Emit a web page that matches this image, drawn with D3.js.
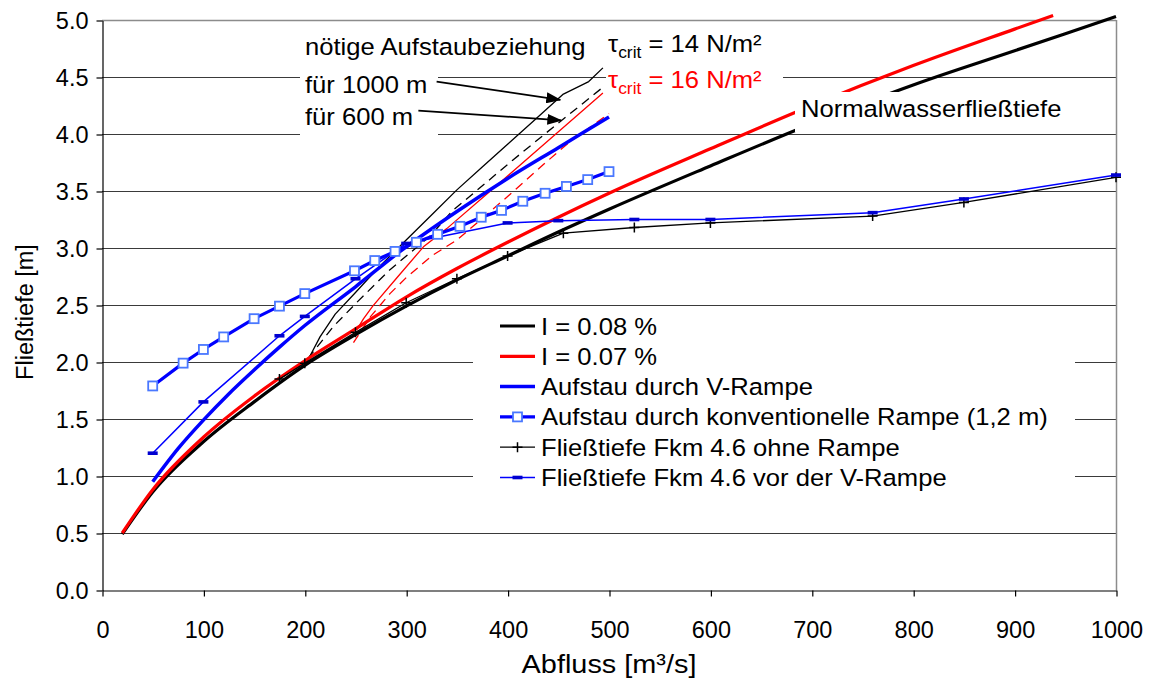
<!DOCTYPE html>
<html><head><meta charset="utf-8">
<script src="https://cdn.jsdelivr.net/npm/d3@7"></script>
<style>body{margin:0;background:#fff}svg{display:block}text{font-family:"Liberation Sans",Arial,sans-serif}</style>
</head><body><svg id="c" width="1150" height="684"></svg>
<script>
// ---------- DATA ----------
const xTicks=[0,100,200,300,400,500,600,700,800,900,1000];
const yTicks=[0,0.5,1,1.5,2,2.5,3,3.5,4,4.5,5];
// I = 0.08 % (Normalwasserfließtiefe)
const q08=[20,50,100,150,200,250,300,350,400,450,500,600,700,800,900,1000];
const h08=[0.49,0.86,1.30,1.65,1.97,2.24,2.49,2.72,2.93,3.14,3.34,3.72,4.09,4.43,4.73,5.03];
// I = 0.07 %
const q07=[20,50,100,150,200,250,300,350,400,450,500,600,700,800,900,938];
const h07=[0.50,0.88,1.34,1.70,2.01,2.29,2.57,2.82,3.05,3.27,3.48,3.87,4.25,4.60,4.92,5.04];
// Aufstau durch V-Rampe
const qV=[50,75,100,125,150,175,200,250,294,350,400,450,500];
const hV=[0.95,1.24,1.49,1.72,1.93,2.13,2.32,2.66,2.97,3.32,3.61,3.88,4.15];
// Aufstau durch konventionelle Rampe (1,2 m)
const qK=[50,80,100,120,150,175,200,249,269,289,310,331,353,374,394,415,437,458,479,500];
const hK=[1.79,1.99,2.11,2.22,2.38,2.49,2.60,2.80,2.89,2.97,3.05,3.12,3.19,3.27,3.33,3.41,3.48,3.54,3.60,3.67];
// Fließtiefe Fkm 4.6 ohne Rampe
const qO=[175,200,250,300,350,400,455,525,600,760,850,1000];
const hO=[1.85,1.99,2.26,2.52,2.73,2.93,3.13,3.18,3.22,3.28,3.40,3.62];
// Fließtiefe Fkm 4.6 vor der V-Rampe
const qB=[50,100,175,200,250,300,400,450,525,600,760,850,1000];
const hB=[1.20,1.65,2.23,2.40,2.73,3.04,3.22,3.24,3.25,3.25,3.31,3.43,3.64];
// nötige Aufstaubeziehung, tau_crit = 14 N/m², 1000 m (solid) and 600 m (dashed)
const qT14a=[200,205,215,230,250,275,300,325,350,375,400,425,455,480,494];
const hT14a=[1.97,2.05,2.22,2.42,2.61,2.85,3.07,3.29,3.51,3.71,3.91,4.11,4.35,4.46,4.58];
const qT14b=[203,228,251,284,323,346,373,405,445,494];
const hT14b=[2.03,2.31,2.52,2.81,3.10,3.33,3.53,3.77,4.06,4.41];
// tau_crit = 16 N/m², 1000 m (solid) and 600 m (dashed)
const qT16a=[251,258,267,290,317,340,383,445,494];
const hT16a=[2.28,2.38,2.49,2.73,3.01,3.17,3.50,3.98,4.36];
const qT16b=[248,265,284,300,325,350,375,405,435,452,464,500];
const hT16b=[2.17,2.40,2.60,2.74,2.93,3.07,3.26,3.49,3.73,3.86,3.95,4.18];
const legendLabels=["I = 0.08 %","I = 0.07 %","Aufstau durch V-Rampe","Aufstau durch konventionelle Rampe (1,2 m)","Fließtiefe Fkm 4.6 ohne Rampe","Fließtiefe Fkm 4.6 vor der V-Rampe"];

// ---------- CHART ----------
const zip=(a,b)=>a.map((v,i)=>[v,b[i]]);
const svg=d3.select("#c");
const L=102,R=1116,T=20,B=590;
const x=d3.scaleLinear().domain([0,1000]).range([L,R]);
const y=d3.scaleLinear().domain([0,5]).range([B,T]);
const SX=1.09;
const BLUE="#0000ff", RED="#ff0000", SQ="#4a78ff";

// grid
svg.append("g").selectAll("line").data(yTicks.filter(v=>v>0&&v<5)).join("line")
  .attr("x1",L).attr("x2",R).attr("y1",d=>y(d)+0.5).attr("y2",d=>y(d)+0.5)
  .attr("stroke","#3a3a3a").attr("stroke-width",1);
svg.append("line").attr("x1",L).attr("x2",R).attr("y1",y(5)+0.5).attr("y2",y(5)+0.5).attr("stroke","#8c8c8c").attr("stroke-width",1.5);
svg.append("line").attr("x1",R+0.5).attr("x2",R+0.5).attr("y1",T).attr("y2",B).attr("stroke","#8c8c8c").attr("stroke-width",1.5);

// axes
const ya=svg.append("g").attr("transform",`translate(${L+0.5},0.5)`)
  .call(d3.axisLeft(y).tickValues(yTicks).tickFormat(d3.format(".1f")).tickSize(6).tickSizeOuter(0).tickPadding(8));
const xa=svg.append("g").attr("transform",`translate(0.5,${B+0.5})`)
  .call(d3.axisBottom(x).tickValues(xTicks).tickFormat(d3.format("d")).tickSize(6).tickSizeOuter(0).tickPadding(25));
[ya,xa].forEach(a=>{a.selectAll("text").style("font-size","23.5px").style("font-family",'"Liberation Sans",Arial,sans-serif').style("fill","#000");
  a.selectAll("line,path").attr("stroke","#000").attr("stroke-width",1.2);});

// axis titles
svg.append("text").attr("transform",`translate(609,673) scale(${SX},1)`).attr("text-anchor","middle").style("font-size","26.5px").style("fill","#000").text("Abfluss [m³/s]");
svg.append("text").attr("transform","translate(33,312) rotate(-90)").attr("text-anchor","middle").style("font-size","23.5px").style("fill","#000").text("Fließtiefe [m]");

const lineLin=d3.line().x(d=>x(d[0])).y(d=>y(d[1]));
const lineSm=d3.line().x(d=>x(d[0])).y(d=>y(d[1])).curve(d3.curveMonotoneX);
const g=svg.append("g").attr("fill","none");
function path(data,gen,color,w,dash){const p=g.append("path").attr("d",gen(data)).attr("stroke",color).attr("stroke-width",w).attr("fill","none").attr("stroke-linejoin","round");if(dash)p.attr("stroke-dasharray",dash);return p;}

// tau lines
path(zip(qT14a,hT14a),lineLin,"#000",1.3);
path(zip(qT14b,hT14b),lineLin,"#000",1.3,"9,6");
path(zip(qT16a,hT16a),lineLin,RED,1.3);
path(zip(qT16b,hT16b),lineLin,RED,1.3,"9,6");
// main series
path(zip(q08,h08),lineSm,"#000",3.2);
path(zip(q07,h07),lineSm,RED,3.2);
path(zip(qV,hV),lineSm,BLUE,3.5);
path(zip(qK,hK),lineLin,BLUE,3.2);
path(zip(qO,hO),lineLin,"#000",1.3);
path(zip(qB,hB),lineLin,BLUE,1.5);

function square(sel){sel.append("rect").attr("x",-4.5).attr("y",-4.5).attr("width",9).attr("height",9).attr("fill","#fff").attr("stroke",SQ).attr("stroke-width",1.8);}
function plus(sel){sel.append("path").attr("d","M-5,0H5M0,-5V5").attr("stroke","#000").attr("stroke-width",1.5);}
function dash(sel){sel.append("rect").attr("x",-5).attr("y",-1.8).attr("width",10).attr("height",3.6).attr("fill","#0000d0");}
function markers(data,fn){g.selectAll(null).data(data).join("g").attr("transform",d=>`translate(${x(d[0])},${y(d[1])})`).each(function(){fn(d3.select(this));});}
markers(zip(qK,hK),square);
markers(zip(qO,hO),plus);
markers(zip(qB,hB),dash);

// annotation boxes
const ann=svg.append("g");
ann.append("rect").attr("x",300).attr("y",66).attr("width",138).attr("height",71).attr("fill","#fff");
ann.append("rect").attr("x",606).attr("y",62).attr("width",177).attr("height",34).attr("fill","#fff");
ann.append("rect").attr("x",795).attr("y",92).attr("width",268).attr("height",40).attr("fill","#fff");
function txt(px,py,s,size,color){return ann.append("text").attr("transform",`translate(${px},${py}) scale(${SX},1)`).style("font-size",(size||23.5)+"px").style("fill",color||"#000").text(s);}
txt(305,55,"nötige Aufstaubeziehung");
txt(305,93,"für 1000 m");
txt(305,125,"für 600 m");
txt(801,117,"Normalwasserfließtiefe");
function tau(px,py,val,color){const t=ann.append("text").attr("transform",`translate(${px},${py}) scale(${SX},1)`).style("font-size","23.5px").style("fill",color);
  t.append("tspan").text("τ");
  t.append("tspan").style("font-size","16px").attr("dy",6).text("crit");
  t.append("tspan").attr("dy",-6).text(` = ${val} N/m²`);}
tau(608,52,14,"#000");
tau(608,88,16,RED);

// arrows
const defs=svg.append("defs");
defs.append("marker").attr("id","ah").attr("markerUnits","userSpaceOnUse").attr("markerWidth",15).attr("markerHeight",11)
  .attr("refX",14).attr("refY",5.5).attr("orient","auto").append("path").attr("d","M0,0L15,5.5L0,11Z").attr("fill","#000");
const arrows=[[[330,4.46],[452,4.30]],[[312,4.205],[453,4.12]]];
ann.selectAll(null).data(arrows).join("line")
  .attr("x1",d=>x(d[0][0])).attr("y1",d=>y(d[0][1])).attr("x2",d=>x(d[1][0])).attr("y2",d=>y(d[1][1]))
  .attr("stroke","#000").attr("stroke-width",1.8).attr("marker-end","url(#ah)");

// legend
const lg=svg.append("g").attr("transform","translate(473,308)");
lg.append("rect").attr("width",602).attr("height",220).attr("fill","#fff");
const styles=[{c:"#000",w:3.2},{c:RED,w:3.2},{c:BLUE,w:3.5},{c:BLUE,w:3.2,m:square},{c:"#000",w:1.3,m:plus},{c:BLUE,w:1.5,m:dash}];
legendLabels.forEach((lab,i)=>{
  const row=lg.append("g").attr("transform",`translate(0,${18+i*30.3})`);
  const s=styles[i];
  row.append("line").attr("x1",27).attr("x2",62).attr("stroke",s.c).attr("stroke-width",s.w);
  if(s.m){const mg=row.append("g").attr("transform","translate(44.5,0)");s.m(mg);}
  row.append("text").attr("transform",`translate(68,8.5) scale(${SX},1)`).style("font-size","23.5px").style("fill","#000").text(lab);
});
</script></body></html>
